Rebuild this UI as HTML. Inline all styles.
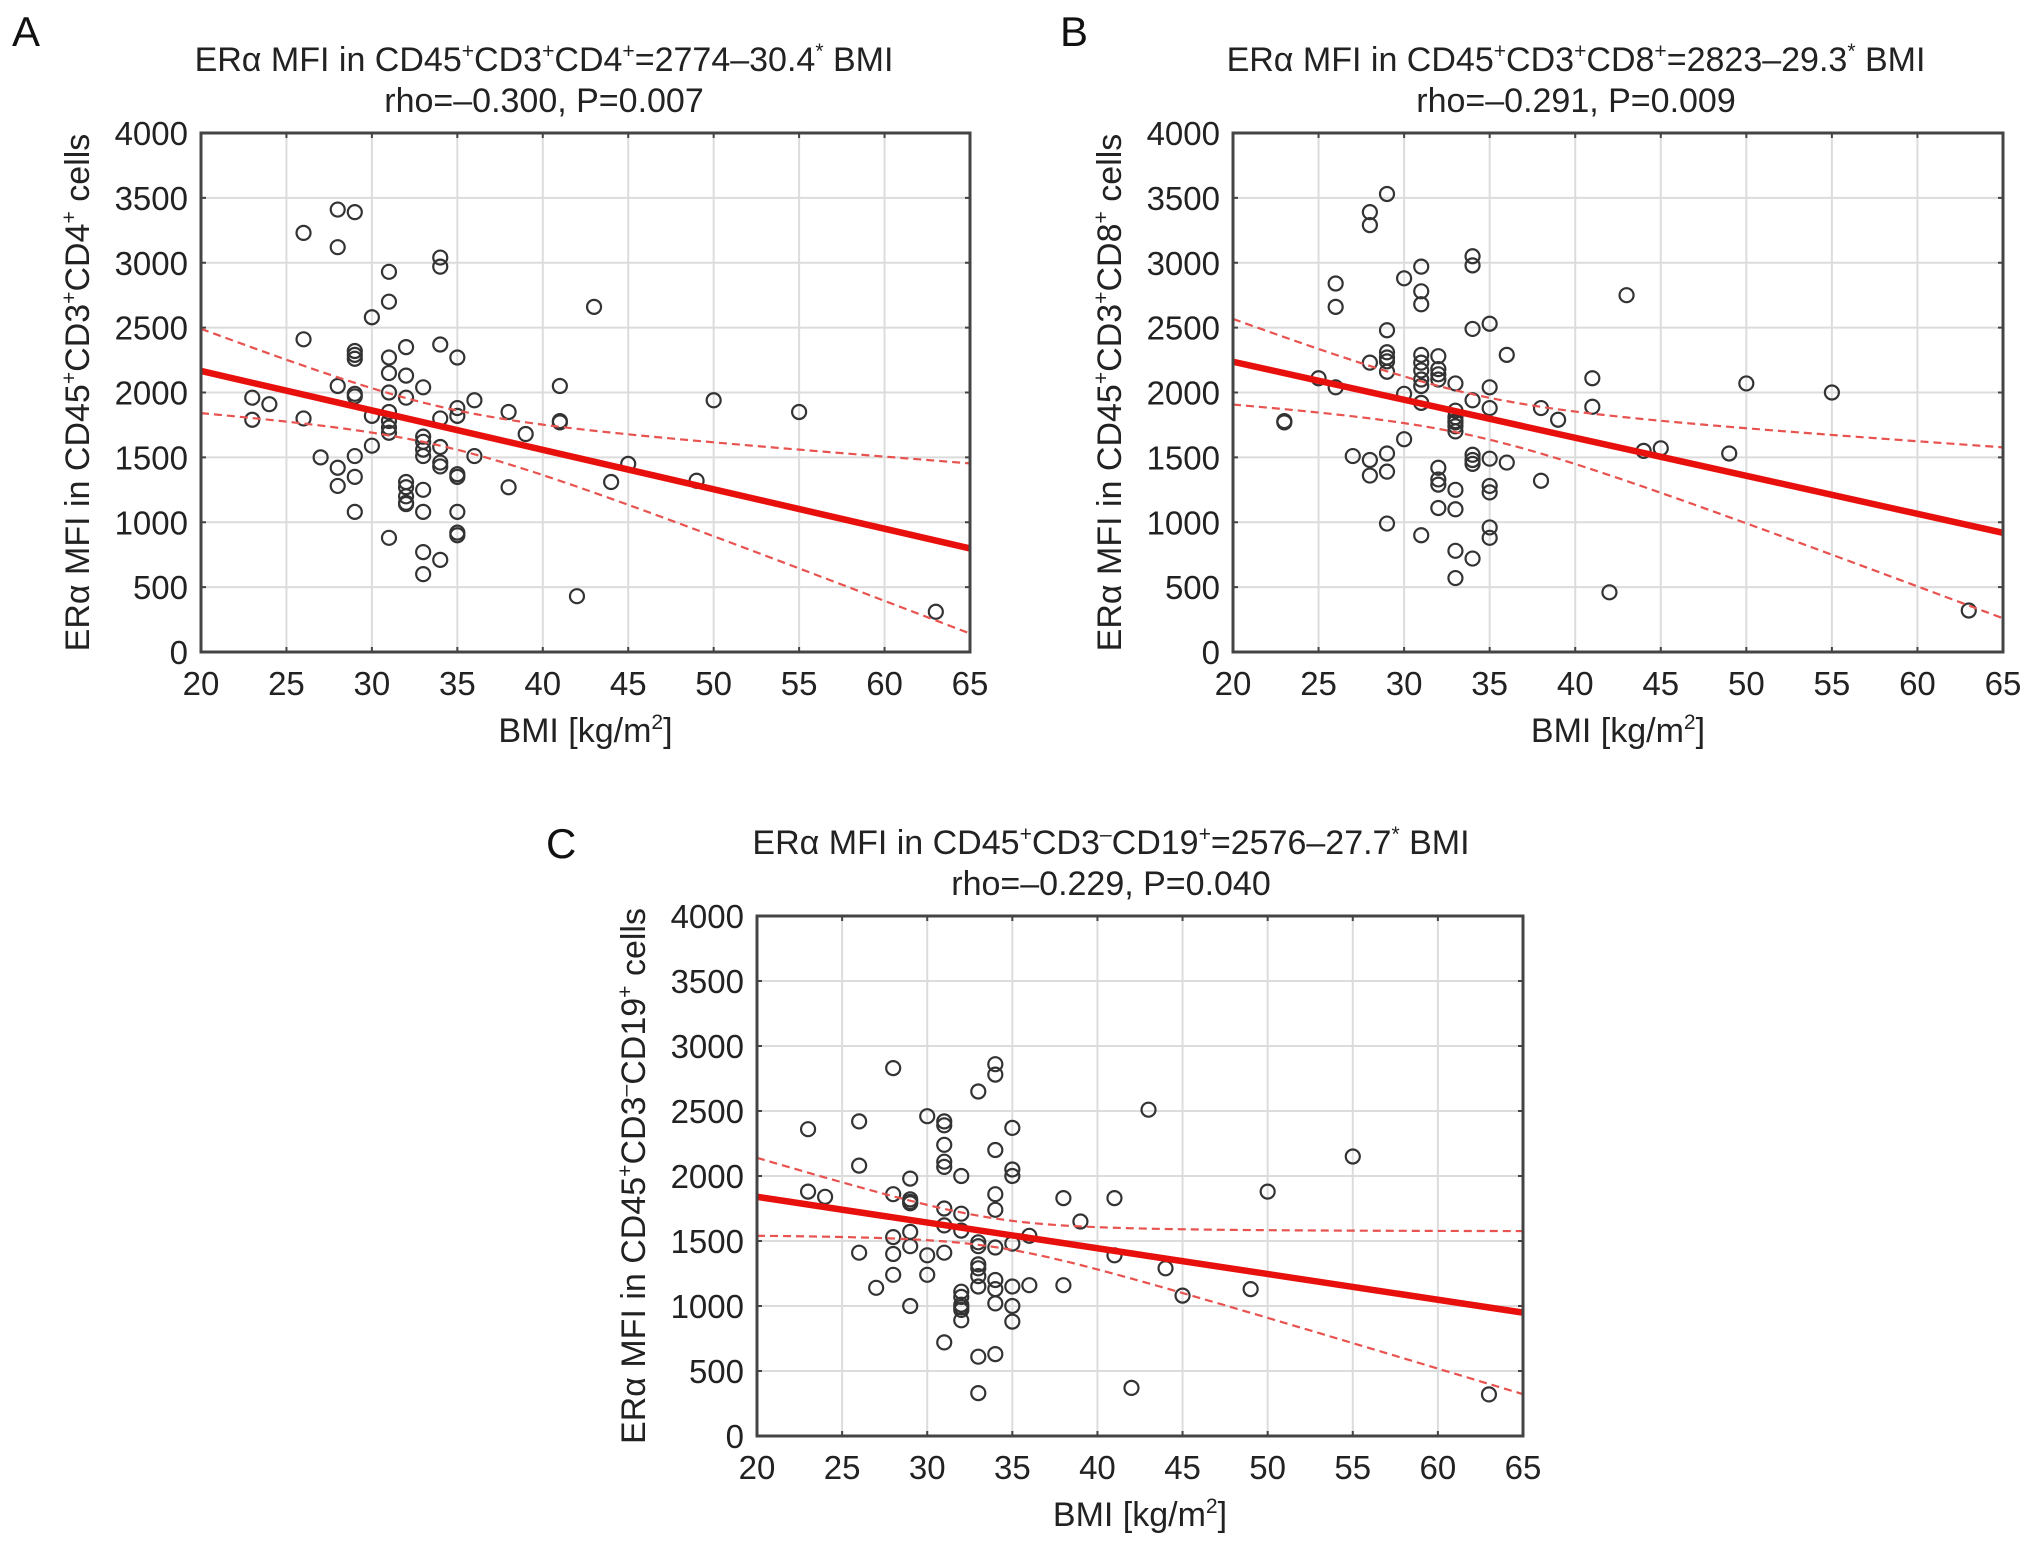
<!DOCTYPE html>
<html><head><meta charset="utf-8"><style>
html,body{margin:0;padding:0;background:#fff;}
svg{display:block;font-family:"Liberation Sans",Arial,sans-serif;}
</style></head><body>
<svg id="fig" width="2032" height="1546" viewBox="0 0 2032 1546" xmlns="http://www.w3.org/2000/svg"></svg>
<script>
// ---- Data ----
const xTicks=[20,25,30,35,40,45,50,55,60,65];
const yTicks=[0,500,1000,1500,2000,2500,3000,3500,4000];
const aBmi=[23,23,24,26,26,26,27,28,28,28,28,28,29,29,29,29,29,29,29,29,29,30,30,30,31,31,31,31,31,31,31,31,31,31,32,32,32,32,32,32,32,32,33,33,33,33,33,33,33,33,33,34,34,34,34,34,34,34,34,35,35,35,35,35,35,35,35,36,36,38,38,39,41,41,41,42,43,44,45,49,50,55,63];
const aVal=[1960,1790,1910,3230,2410,1800,1500,3410,3120,2050,1420,1280,3390,2320,2290,2260,1990,1970,1510,1350,1080,2580,1820,1590,2930,2700,2270,2150,2000,1850,1780,1730,1690,880,2350,2130,1960,1310,1270,1200,1150,1140,2040,1660,1620,1560,1510,1250,1080,770,600,3040,2970,2370,1800,1580,1460,1430,710,2270,1880,1820,1370,1350,1080,920,900,1940,1510,1850,1270,1680,2050,1780,1770,430,2660,1310,1450,1320,1940,1850,310];
const bBmi=[23,23,25,26,26,26,27,28,28,28,28,28,29,29,29,29,29,29,29,29,29,30,30,30,31,31,31,31,31,31,31,31,31,31,32,32,32,32,32,32,32,32,33,33,33,33,33,33,33,33,33,33,33,34,34,34,34,34,34,34,34,35,35,35,35,35,35,35,35,36,36,38,38,39,41,41,42,43,44,45,49,50,55,63];
const bVal=[1780,1770,2110,2840,2660,2040,1510,3390,3290,2230,1480,1360,3530,2480,2310,2270,2240,2160,1530,1390,990,2880,1990,1640,2970,2780,2680,2290,2230,2170,2100,2050,1920,900,2280,2180,2140,2100,1420,1330,1290,1110,2070,1860,1810,1780,1770,1740,1700,1250,1100,780,570,3050,2980,2490,1940,1520,1480,1450,720,2530,2040,1880,1490,1280,1230,960,880,2290,1460,1880,1320,1790,2110,1890,460,2750,1550,1570,1530,2070,2000,320];
const cBmi=[23,23,24,26,26,26,27,28,28,28,28,28,29,29,29,29,29,29,29,30,30,30,31,31,31,31,31,31,31,31,31,32,32,32,32,32,32,32,32,32,33,33,33,33,33,33,33,33,33,34,34,34,34,34,34,34,34,34,34,35,35,35,35,35,35,35,36,36,38,38,39,41,41,42,43,44,45,49,50,55,63];
const cVal=[2360,1880,1840,2420,2080,1410,1140,2830,1860,1530,1400,1240,1980,1820,1800,1790,1570,1460,1000,2460,1390,1240,2420,2390,2240,2110,2070,1750,1620,1410,720,2000,1710,1580,1110,1070,1010,990,970,890,2650,1490,1460,1320,1290,1230,1150,610,330,2860,2780,2200,1860,1740,1450,1200,1130,1020,630,2370,2050,2000,1480,1150,1000,880,1540,1160,1830,1160,1650,1830,1390,370,2510,1290,1080,1130,1880,2150,320];
// regression: [intercept, slope] as drawn; CI: [xMean, minHalfWidth, curvature]
const aFit=[2774,-30.4], aCI=[34,150,424];
const bFit=[2823,-29.3], bCI=[34,160,425];
const cFit=[2236,-19.8], cCI=[34,110,397];

const NS="http://www.w3.org/2000/svg";
const svg=document.getElementById('fig');
function mk(tag,attrs,parent){const e=document.createElementNS(NS,tag);for(const k in attrs)e.setAttribute(k,attrs[k]);(parent||svg).appendChild(e);return e;}
function richText(parent,x,y,parts,size,anchor){
  const t=mk('text',{x:x,y:y,'font-size':size,'text-anchor':anchor||'middle',fill:'#222'},parent);
  parts.forEach(p=>{const s=mk('tspan',{},t);
    if(p[1]==='sup'){s.setAttribute('font-size',size*0.62);s.setAttribute('dy',-size*0.38);}
    else if(p[2]){s.setAttribute('dy',size*0.38);}
    s.textContent=p[0];});
  return t;
}
function panel(o){
  const g=mk('g',{});
  
  
  const L=o.L,R=o.R,T=o.T,B=o.B;
  const sx=v=>L+(v-20)/45*(R-L);
  const sy=v=>B-v/4000*(B-T);
  const grid=mk('g',{},g);
  
  
  xTicks.forEach(v=>{mk('line',{x1:sx(v),x2:sx(v),y1:T,y2:B,stroke:'#dcdcdc','stroke-width':2},grid);
    mk('line',{x1:sx(v),x2:sx(v),y1:B,y2:B-5,stroke:'#444','stroke-width':2},grid);
    mk('line',{x1:sx(v),x2:sx(v),y1:T,y2:T+5,stroke:'#444','stroke-width':2},grid);});
  yTicks.forEach(v=>{mk('line',{x1:L,x2:R,y1:sy(v),y2:sy(v),stroke:'#dcdcdc','stroke-width':2},grid);
    mk('line',{x1:L,x2:L+5,y1:sy(v),y2:sy(v),stroke:'#444','stroke-width':2},grid);
    mk('line',{x1:R,x2:R-5,y1:sy(v),y2:sy(v),stroke:'#444','stroke-width':2},grid);});
  const xl=mk('g',{'font-size':33,fill:'#222','text-anchor':'middle'},g);
  
  
  xTicks.forEach(v=>{const t=mk('text',{x:sx(v),y:B+43},xl);t.textContent=v;});
  const yl=mk('g',{'font-size':33,fill:'#222','text-anchor':'end'},g);
  
  
  yTicks.forEach(v=>{const t=mk('text',{x:L-13,y:sy(v)+12},yl);t.textContent=v;});
  const pts=mk('g',{fill:'none',stroke:'#333','stroke-width':2.2},g);
  
  
  o.xs.forEach((x,i)=>{const c=mk('circle',{cx:sx(x),cy:sy(o.ys[i]),r:7},pts);
    
    });
  const f=x=>o.fit[0]+o.fit[1]*x;
  const hw=x=>Math.sqrt(o.ci[1]*o.ci[1]+o.ci[2]*(x-o.ci[0])*(x-o.ci[0]));
  let up='',lo='';
  for(let x=20;x<=65.001;x+=0.5){up+=(up?'L':'M')+sx(x)+','+sy(f(x)+hw(x));lo+=(lo?'L':'M')+sx(x)+','+sy(f(x)-hw(x));}
  const u=mk('path',{d:up,fill:'none',stroke:'#e8524f','stroke-width':2.2,'stroke-dasharray':'8,5'},g);
  
  
  const lw=mk('path',{d:lo,fill:'none',stroke:'#e8524f','stroke-width':2.2,'stroke-dasharray':'8,5'},g);
  
  
  const rl=mk('line',{x1:sx(20),y1:sy(f(20)),x2:sx(65),y2:sy(f(65)),stroke:'#e8100c','stroke-width':6.5},g);
  
  
  const fr=mk('rect',{x:L,y:T,width:R-L,height:B-T,fill:'none',stroke:'#444','stroke-width':3},g);
  
  
  const t1=richText(g,o.tx,o.ty,o.title,34);
  
  
  const t2=richText(g,o.tx,o.ty+41,[[o.sub]],34);
  
  
  const pl=mk('text',{x:o.lx,y:o.ly,'font-size':42,fill:'#111'},g);
  pl.textContent=o.id;
  
  
  const xa=richText(g,(L+R)/2,B+90,[['BMI [kg/m'],['2','sup'],[']','',true]],34);
  
  
  const yg=mk('g',{transform:'translate('+(L-112)+','+((T+B)/2)+') rotate(-90)'},g);
  const ya=richText(yg,0,0,o.ylab,34);
  
  
}
panel({id:'A',L:201,R:970,T:133,B:652,xs:aBmi,ys:aVal,fit:aFit,ci:aCI,tx:544,ty:71,lx:12,ly:46,
  title:[['ERα MFI in CD45'],['+','sup'],['CD3','',true],['+','sup'],['CD4','',true],['+','sup'],['=2774–30.4','',true],['*','sup'],[' BMI','',true]],
  sub:'rho=–0.300, P=0.007',
  ylab:[['ERα MFI in CD45'],['+','sup'],['CD3','',true],['+','sup'],['CD4','',true],['+','sup'],[' cells','',true]]});
panel({id:'B',L:1233,R:2003,T:133,B:652,xs:bBmi,ys:bVal,fit:bFit,ci:bCI,tx:1576,ty:71,lx:1060,ly:46,
  title:[['ERα MFI in CD45'],['+','sup'],['CD3','',true],['+','sup'],['CD8','',true],['+','sup'],['=2823–29.3','',true],['*','sup'],[' BMI','',true]],
  sub:'rho=–0.291, P=0.009',
  ylab:[['ERα MFI in CD45'],['+','sup'],['CD3','',true],['+','sup'],['CD8','',true],['+','sup'],[' cells','',true]]});
panel({id:'C',L:757,R:1523,T:916,B:1436,xs:cBmi,ys:cVal,fit:cFit,ci:cCI,tx:1111,ty:854,lx:546,ly:858,
  title:[['ERα MFI in CD45'],['+','sup'],['CD3','',true],['–','sup'],['CD19','',true],['+','sup'],['=2576–27.7','',true],['*','sup'],[' BMI','',true]],
  sub:'rho=–0.229, P=0.040',
  ylab:[['ERα MFI in CD45'],['+','sup'],['CD3','',true],['–','sup'],['CD19','',true],['+','sup'],[' cells','',true]]});
</script>
</body></html>
